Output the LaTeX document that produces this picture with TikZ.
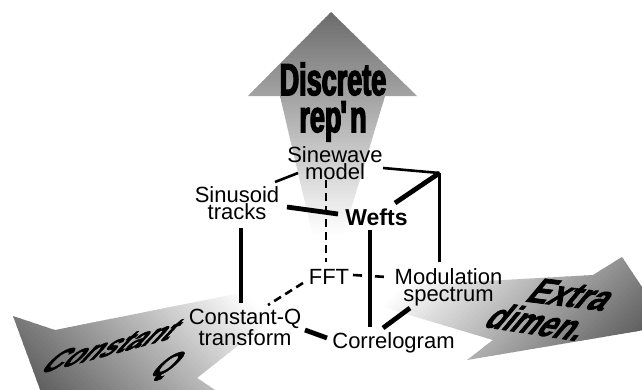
\documentclass[tikz,border=0pt]{standalone}
\usepackage{fontspec}
\setmainfont{Liberation Sans}
\newfontfamily\condfont{Liberation Sans Bold}[FakeStretch=0.6,FakeBold=3]
\newfontfamily\heavyfont{Liberation Sans Bold}[FakeBold=2]
\usetikzlibrary{calc}
\tikzset{
  lab/.style={inner sep=0pt, align=center, font=\fontsize{22}{17}\selectfont},
  conn/.style={line width=2.6pt},
  heavyconn/.style={line width=4.8pt},
  dashconn/.style={line width=2.6pt, dash pattern=on 8pt off 5pt},
  biglab/.style={inner sep=0pt, align=center, transform shape},
  persp/.style={biglab, font=\heavyfont\fontsize{36}{36}\selectfont},
}
\newcommand\gradbands[3]{%
  \foreach \dd in {0,4,...,420} {%
    \pgfmathsetmacro\cc{max(0,min(#3,(\dd+2-#1)/(#2-#1)*#3))}%
    \fill[black!\cc] (\dd,-600) rectangle (\dd+4.8,600);
  }}
\begin{document}
\begin{tikzpicture}[x=1pt,y=-1pt]
\useasboundingbox (0,0) rectangle (642,389);
\fill[white] (0,0) rectangle (642,389);
\clip (0,0) rectangle (642,389);
% ---- left arrow (Constant Q)
\begin{scope}
  \clip (13,316) -- (55,330) -- (326,276) -- (197,378) -- (232,401) -- (66,460) -- cycle;
  \begin{scope}[shift={(326,290)}, rotate=225]
    \gradbands{60}{280}{65}
  \end{scope}
\end{scope}
% ---- right arrow (Extra dimen.)
\begin{scope}
  \clip (622,257) -- (668,326) -- (467,360) -- (493,340) -- (326,290) -- (593,275) -- cycle;
  \begin{scope}[shift={(326,290)}, rotate=-45]
    \gradbands{50}{260}{65}
  \end{scope}
\end{scope}
% ---- up arrow (Discrete rep'n)
\begin{scope}
  \clip (331,12) -- (417,96) -- (385,96) -- (326,292) -- (280,96) -- (248,96) -- cycle;
  \begin{scope}[shift={(326,290)}, rotate=90]
    \gradbands{55}{278}{58}
  \end{scope}
\end{scope}
% ---- big labels
\node[biglab, font=\condfont\fontsize{45}{37}\selectfont] (disc) at (333,102) {Discrete\\rep\kern-1pt\textquotesingle\kern-1pt n};
\begin{scope}[shift={(113,345.7)}]
  \node[persp, cm={0.831,0.2226,0.852,0.914,(0,0)}] (cqa) at (0,0) {Constant};
\end{scope}
\begin{scope}[shift={(166,367)}]
  \node[persp, cm={0.831,0.2226,0.852,0.914,(0,0)}] (cqb) at (0,0) {Q};
\end{scope}
\begin{scope}[shift={(572,294.8)}]
  \node[persp, cm={0.863,-0.106,0.771,0.919,(0,0)}] (exa) at (0,0) {Extra};
\end{scope}
\begin{scope}[shift={(539,322)}]
  \node[persp, cm={0.811,-0.124,0.771,0.919,(0,0)}] (exb) at (0,0) {dimen.};
\end{scope}
% ---- cube labels
\node[lab] (sw) at (335,163.5) {Sinewave\\model};
\node[lab] (st) at (237,203.5) {Sinusoid\\tracks};
\node[lab, font=\bfseries\fontsize{23}{17}\selectfont, anchor=base] (wf) at (376.5,225) {Wefts};
\node[lab, anchor=base] (fft) at (329,284) {FFT};
\node[lab] (ms) at (448.5,287.7) {Modulation\\spectrum};
\node[lab] (cq) at (245,327.2) {Constant-Q\\transform};
\node[lab, anchor=base] (cg) at (393.5,348.5) {Correlogram};
\coordinate (corner) at (439.5,173);
% ---- cube edges
\draw[dashconn] ([shift={(-9,16.5)}]sw.center) -- ([shift={(-3,-22)}]fft.base);
\draw[dashconn] ([shift={(-26,-1)}]fft.base) -- ([shift={(23,-22.2)}]cq.center);
\draw[conn, dash pattern=on 9pt off 13pt] ([shift={(24,-9)}]fft.base) -- ([shift={(-61.5,-10.7)}]ms.center);
\draw[conn] ([shift={(48,4.5)}]sw.center) -- (corner);
\draw[conn] (corner) -- ([shift={(-9,-25.7)}]ms.center);
\draw[conn] ([shift={(-37,9.5)}]sw.center) -- ([shift={(38,-21.5)}]st.center);
\draw[heavyconn] ([shift={(18.5,-22)}]wf.base) -- (corner);
\draw[heavyconn] ([shift={(50,3.5)}]st.center) -- ([shift={(-38.5,-11)}]wf.base);
\draw[heavyconn] ([shift={(4,24.5)}]st.center) -- ([shift={(-4,-24.2)}]cq.center);
\draw[heavyconn] ([shift={(-6.5,5)}]wf.base) -- ([shift={(-23.5,-21.5)}]cg.base);
\draw[heavyconn] ([shift={(60,2.8)}]cq.center) -- ([shift={(-66.5,-10.5)}]cg.base);
\draw[heavyconn] ([shift={(-10.5,-20.5)}]cg.base) -- ([shift={(-38.5,20.3)}]ms.center);
\end{tikzpicture}
\end{document}
